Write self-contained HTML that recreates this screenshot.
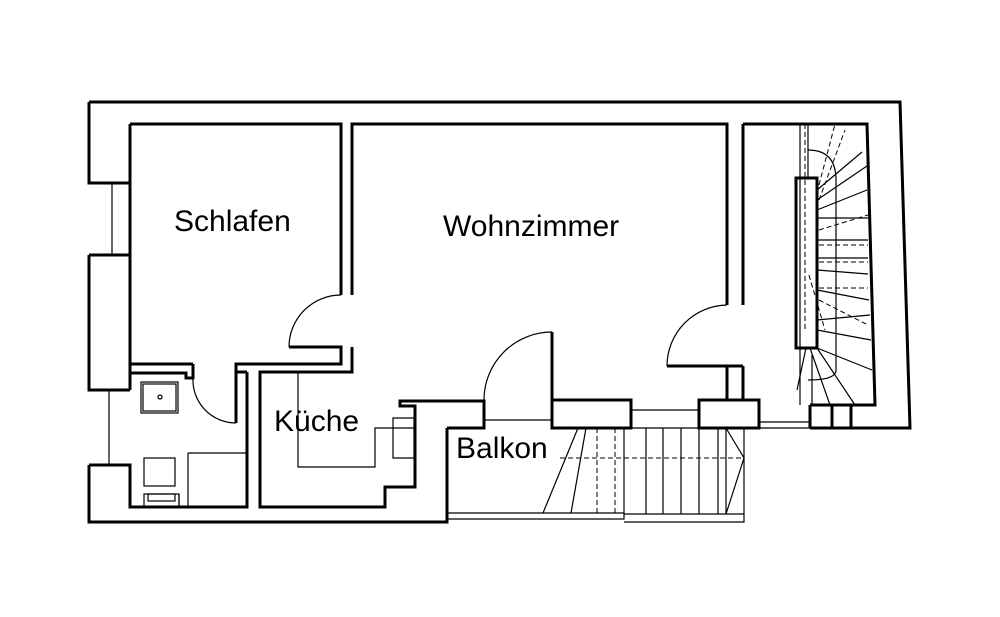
<!DOCTYPE html>
<html><head><style>html,body{margin:0;background:#fff}svg{display:block}text{font-family:"Liberation Sans",sans-serif;fill:#000}</style></head><body>
<svg width="1000" height="617" viewBox="0 0 1000 617" xmlns="http://www.w3.org/2000/svg">
<g fill="none" stroke="#000" stroke-width="3">
<path d="M89,102 H900 L910,428 H851 M810,428 H810"/>
<path d="M89,102 V183 H130 M89,255 V390 H130 M89,465 V522 H447 V428"/>
<path d="M130,124 H341 V295 M352,295 V124 H727 V305 M743,305 V124 M743,124 H796 M796,124 H867 L875,405 H810"/>
<path d="M130,124 V390 M89,255 H130 M89,183 H130 M89,390 H130"/>
<path d="M89,465 H130 V507 H247 V372"/>
<path d="M130,364 H193 M130,373 H186 V378 H193 V364"/>
<path d="M236,423 V364 H341 V347 H289 M352,347 V372 H260 V507 H385 V487 H415 V406 H400 V401 H484 V428 H447 M236,364 V372 H247"/>
<path d="M552,400 H631 V428 H552 Z M699,400 H759 V428 H699 Z M727,366 V400 M743,366 V400 M667,366 H743 M447,428 H484"/>
<path d="M552,332 V428"/>
<path d="M796,178 H817 V348 H796 Z"/>
<path d="M810,405 V428 M851,405 V428 M832,405 V428 M810,428 H851"/>
</g>
<g fill="none" stroke="#000" stroke-width="1.2">
<path d="M341,295 A52,52 0 0 0 289,347 M193,378 A43,43 0 0 0 236,423 M552,332 A68,68 0 0 0 484,400 M727,305 A61,61 0 0 0 667,366"/>
<path d="M112,183 V255 M109,390 V465 M484,420 H552 M631,410 H699 M759,422 H810 M759,428 H810"/>
<path d="M298,372 V467 H375 V428 H415 M393,418 H414 V458 H393 Z"/>
<rect x="141" y="382" width="37" height="31"/><rect x="143" y="384" width="33" height="27"/>
<circle cx="160" cy="397" r="2"/>
<rect x="144" y="458" width="31" height="28"/><rect x="144" y="494" width="35" height="13"/><rect x="148" y="494" width="27" height="7"/>
<path d="M188,453 H247 M188,453 V507 M179,494 V507"/>
<path d="M447,519 H624 V428 M447,513 H624 M624,428 H744 V522 H624 M624,514 H744"/>
<path d="M646,428 V514 M663,428 V514 M681,428 V514 M699,428 V514 M718,428 V514 M726,428 V514 M726,428 L744,458 L726,514"/>
<path d="M578,428 L543,513 M586,428 L571,513"/>
<path d="M800,124 V405 M808,124 V178"/>
<path d="M817,190 L862,152 M817,200 L867,166 M817,210 L867,190 M817,218 H868 M817,240 H868 M817,258 H868 M817,270 L868,274 M817,290 L869,300 M817,320 L870,315 M817,330 L871,340 M817,348 L872,370 M810,348 L830,405 M806,348 L797,390 M817,348 L855,405 M812,355 V405"/>
<path d="M808,150 Q836,150 836,180 V370 Q836,380 808,380" />
</g>
<g fill="none" stroke="#000" stroke-width="1" stroke-dasharray="5,3">
<path d="M805,124 V330 M819,200 L845,130 M819,185 L835,124 M819,230 L868,215 M819,245 H868 M819,262 H868 M819,288 H868 M819,300 L868,325 M809,275 L825,330 M560,458 H744 M447,513 H624 M597,428 V513 M615,428 V513"/>
</g>
<text x="174" y="231" font-size="30">Schlafen</text>
<text x="443" y="236" font-size="30">Wohnzimmer</text>
<text x="274" y="431" font-size="30">Küche</text>
<text x="456" y="458" font-size="30">Balkon</text>
</svg>
</body></html>
